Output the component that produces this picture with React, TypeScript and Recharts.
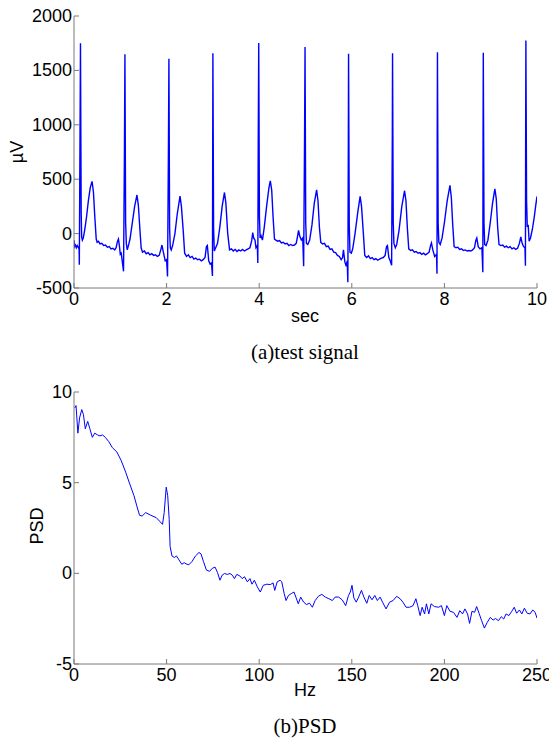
import { LineChart, Line, XAxis, YAxis } from 'recharts'

const SEC_TICKS = [0, 2, 4, 6, 8, 10]
const UV_TICKS = [-500, 0, 500, 1000, 1500, 2000]
const HZ_TICKS = [0, 50, 100, 150, 200, 250]
const PSD_TICKS = [-5, 0, 5, 10]

// [sec, µV]
const ECG_POINTS: [number, number][] = [
  [0.00, -60], [0.01, -120], [0.03, -105], [0.05, -130], [0.07, -110], [0.09, -125], [0.11, -140],
  [0.115, -286], [0.13, 900], [0.14, 1749], [0.155, 200], [0.165, -30], [0.18, -60], [0.20, -40],
  [0.23, 30], [0.27, 150], [0.31, 300], [0.35, 420], [0.39, 480], [0.42, 380], [0.45, 150], [0.48, -50],
  [0.50, -80], [0.53, -70], [0.56, -95], [0.60, -90], [0.64, -110], [0.68, -105], [0.72, -125],
  [0.76, -120], [0.80, -140], [0.84, -135], [0.88, -150], [0.91, -130], [0.94, -70], [0.96, -50],
  [0.98, -110], [1.00, -190], [1.02, -180],
  [1.07, -347], [1.09, 800], [1.10, 1648], [1.115, 100], [1.13, -90], [1.15, -150], [1.17, -120],
  [1.21, -50], [1.26, 100], [1.31, 250], [1.36, 355], [1.39, 260], [1.42, 60], [1.45, -130],
  [1.48, -170], [1.52, -160], [1.56, -185], [1.60, -175], [1.64, -195], [1.68, -185], [1.72, -200],
  [1.76, -195], [1.80, -210], [1.84, -200], [1.88, -140], [1.90, -105], [1.93, -170], [1.97, -250],
  [2.00, -240], [2.02, -395], [2.04, 800], [2.05, 1608], [2.065, 50], [2.08, -130], [2.10, -150],
  [2.13, -110], [2.18, 0], [2.23, 180], [2.29, 345], [2.32, 250], [2.36, 20], [2.39, -180],
  [2.43, -210], [2.47, -195], [2.51, -220], [2.55, -210], [2.59, -235], [2.63, -225], [2.67, -240],
  [2.71, -235], [2.75, -250], [2.79, -240], [2.83, -220], [2.86, -120], [2.88, -110], [2.91, -250],
  [2.94, -280], [2.97, -270], [2.99, -390], [3.00, 1657], [3.015, 50], [3.03, -160], [3.06, -130],
  [3.10, -90], [3.15, 60], [3.20, 250], [3.25, 378], [3.28, 280], [3.32, 0], [3.36, -150],
  [3.40, -140], [3.44, -160], [3.48, -145], [3.52, -165], [3.56, -150], [3.60, -160], [3.64, -145],
  [3.68, -160], [3.72, -150], [3.76, -140], [3.80, -130], [3.84, -60], [3.86, 10], [3.88, -40],
  [3.91, -60], [3.93, -130], [3.96, -110], [3.97, -270], [3.98, 900], [3.99, 1752], [4.005, 150],
  [4.02, -40], [4.04, -20], [4.07, -60], [4.11, 60], [4.16, 250], [4.21, 420], [4.24, 485],
  [4.27, 400], [4.30, 150], [4.33, -50], [4.36, -60], [4.40, -70], [4.44, -65], [4.48, -85],
  [4.52, -80], [4.56, -95], [4.60, -90], [4.64, -110], [4.68, -100], [4.72, -110], [4.76, -105],
  [4.80, -90], [4.83, -20], [4.85, 30], [4.88, -30], [4.91, -60], [4.94, -40], [4.96, -300],
  [4.98, 900], [4.99, 1715], [5.005, 100], [5.02, -90], [5.05, -100], [5.09, -60], [5.14, 80],
  [5.19, 280], [5.24, 402], [5.27, 300], [5.30, 60], [5.33, -80], [5.37, -95], [5.41, -90],
  [5.45, -120], [5.49, -115], [5.53, -145], [5.57, -140], [5.61, -170], [5.65, -175], [5.69, -200],
  [5.73, -210], [5.77, -240], [5.80, -220], [5.82, -150], [5.85, -260], [5.88, -300], [5.90, -250],
  [5.915, -448], [5.925, 800], [5.93, 1654], [5.945, 80], [5.96, -170], [5.99, -180], [6.02, -140],
  [6.07, 0], [6.13, 200], [6.18, 342], [6.21, 250], [6.25, 0], [6.28, -200], [6.32, -220],
  [6.36, -205], [6.40, -230], [6.44, -220], [6.48, -240], [6.52, -230], [6.56, -245], [6.60, -235],
  [6.64, -225], [6.68, -220], [6.72, -200], [6.75, -120], [6.77, -110], [6.80, -220], [6.83, -250],
  [6.86, -292], [6.875, 900], [6.88, 1657], [6.895, 100], [6.91, -90], [6.94, -130], [6.97, -100],
  [7.02, 30], [7.08, 250], [7.14, 394], [7.17, 300], [7.20, 50], [7.23, -140], [7.27, -155],
  [7.31, -150], [7.35, -170], [7.39, -165], [7.43, -180], [7.47, -175], [7.51, -190], [7.55, -180],
  [7.59, -195], [7.63, -185], [7.67, -170], [7.70, -110], [7.72, -85], [7.75, -150], [7.79, -210],
  [7.83, -190], [7.84, -368], [7.845, 900], [7.85, 1666], [7.865, 100], [7.88, -80], [7.91, -100],
  [7.95, -40], [8.00, 100], [8.06, 300], [8.12, 443], [8.15, 330], [8.18, 80], [8.21, -120],
  [8.25, -130], [8.29, -125], [8.33, -145], [8.37, -140], [8.41, -155], [8.45, -150], [8.49, -160],
  [8.53, -155], [8.57, -160], [8.61, -150], [8.65, -130], [8.68, -60], [8.70, -40], [8.73, -120],
  [8.77, -140], [8.81, -130], [8.83, -356], [8.835, 900], [8.84, 1663], [8.855, 100], [8.87, -100],
  [8.90, -110], [8.94, -60], [8.99, 100], [9.04, 280], [9.09, 412], [9.12, 320], [9.15, 60],
  [9.18, -100], [9.22, -110], [9.26, -105], [9.30, -125], [9.34, -115], [9.38, -130], [9.42, -120],
  [9.46, -140], [9.50, -130], [9.54, -145], [9.58, -135], [9.62, -90], [9.65, -30], [9.68, -90],
  [9.71, -120], [9.74, -130], [9.75, -295], [9.755, 900], [9.76, 1774], [9.775, 300], [9.79, 60],
  [9.81, 80], [9.83, -70], [9.86, -40], [9.90, 40], [9.94, 150], [9.97, 250], [10.0, 342],
]

// [Hz, PSD]
const PSD_POINTS: [number, number][] = [
  [0.4, 9.12], [1.1, 9.25], [2.1, 7.73], [3.0, 8.57], [4.2, 9.03], [5.1, 8.75], [6.1, 7.97],
  [7.4, 8.38], [8.5, 8.0], [9.9, 7.5], [11.2, 7.73], [12.7, 7.63], [14.0, 7.58], [15.4, 7.63],
  [16.9, 7.5], [18.8, 7.26], [20.7, 6.93], [23.1, 6.7], [25.4, 6.24], [27.9, 5.58], [30.1, 4.93],
  [32.4, 4.28], [33.9, 3.72], [35.4, 3.2], [36.8, 3.16], [38.7, 3.35], [41.5, 3.2], [44.4, 3.07],
  [46.2, 2.88], [47.8, 2.7], [48.7, 3.35], [49.8, 4.75], [50.6, 4.28], [51.4, 2.98], [51.9, 1.48],
  [52.9, 0.96], [54.2, 0.87], [55.3, 0.96], [56.7, 0.74], [58.2, 0.5], [59.5, 0.59], [60.5, 0.52],
  [62.0, 0.47], [63.7, 0.65], [65.6, 0.96], [67.5, 1.15], [68.6, 1.07], [69.9, 0.65], [71.5, 0.18],
  [73.2, 0.11], [74.7, 0.28], [76.2, 0.34], [77.5, 0.04], [78.8, -0.38], [80.0, -0.1], [81.3, -0.01],
  [82.8, -0.06], [84.2, -0.01], [85.5, -0.1], [86.6, -0.29], [87.9, -0.06], [89.5, -0.14],
  [90.8, -0.29], [92.1, -0.19], [93.6, -0.47], [95.0, -0.29], [96.1, -0.6], [97.4, -0.38],
  [99.0, -0.75], [100.6, -1.03], [102.2, -0.66], [104.1, -0.6], [106.0, -0.62], [107.5, -0.53],
  [108.4, -0.94], [109.7, -0.47], [111.3, -0.38], [112.2, -0.47], [113.5, -1.12], [114.5, -1.5],
  [115.8, -1.22], [117.3, -1.12], [118.8, -1.03], [119.8, -1.31], [121.1, -1.68], [122.4, -1.31],
  [124.0, -1.59], [125.5, -1.72], [127.2, -1.65], [128.7, -1.87], [130.2, -1.5], [131.9, -1.27],
  [133.8, -1.16], [135.7, -1.31], [137.6, -1.4], [139.5, -1.5], [141.0, -1.31], [142.9, -1.31],
  [144.8, -1.46], [146.7, -1.78], [148.2, -1.22], [149.2, -1.03], [150.1, -0.66], [151.1, -1.35],
  [152.4, -1.59], [153.7, -1.31], [155.2, -0.94], [156.7, -1.35], [158.1, -1.65], [159.4, -1.22],
  [160.9, -1.46], [162.4, -1.22], [163.8, -1.5], [165.3, -1.31], [166.6, -1.59], [168.5, -1.96],
  [170.4, -1.59], [172.3, -1.5], [174.2, -1.27], [176.1, -1.4], [177.6, -1.59], [179.3, -1.87],
  [181.2, -1.87], [183.1, -1.78], [184.6, -1.4], [185.6, -1.78], [186.9, -2.33], [188.0, -1.87],
  [189.3, -2.24], [190.3, -1.68], [191.6, -2.24], [192.8, -1.68], [194.6, -1.83], [196.9, -1.87],
  [198.4, -1.78], [200.0, -2.33], [201.3, -1.78], [203.0, -2.09], [204.9, -2.15], [206.8, -2.43],
  [208.3, -2.06], [209.8, -2.24], [211.1, -1.96], [212.5, -2.24], [213.6, -2.76], [214.9, -2.09],
  [216.3, -2.15], [217.4, -1.83], [218.7, -2.2], [220.1, -2.61], [221.6, -3.02], [223.1, -2.71],
  [224.8, -2.43], [226.3, -2.58], [227.6, -2.49], [229.2, -2.61], [230.7, -2.39], [232.0, -2.52],
  [233.3, -2.24], [234.8, -2.33], [236.4, -2.09], [237.7, -1.87], [239.0, -2.2], [240.5, -2.02],
  [241.8, -2.24], [243.2, -1.92], [244.7, -2.2], [246.2, -2.24], [247.7, -2.02], [249.0, -2.15],
  [250.0, -2.47],
]

const ecgData = ECG_POINTS.map(([t, v]) => ({ t, v }))
const psdData = PSD_POINTS.map(([t, v]) => ({ t, v }))

const FRAME = '#7a7a7a'
const SANS = '"Liberation Sans", Arial, sans-serif'
const SERIF = '"Liberation Serif", "Times New Roman", serif'
const TICK_LEN = 5
const TICK_FONT = 18

function BottomTick(props: any) {
  const { x, y, payload } = props
  return (
    <g>
      <line x1={x} x2={x} y1={y} y2={y - TICK_LEN} stroke={FRAME} />
      <text x={x} y={y + 17} textAnchor="middle" fontSize={TICK_FONT} fontFamily={SANS} fill="#000">{payload.value}</text>
    </g>
  )
}

function TopTick(props: any) {
  const { x, y } = props
  return <line x1={x} x2={x} y1={y} y2={y + TICK_LEN} stroke={FRAME} />
}

function LeftTick(props: any) {
  const { x, y, payload } = props
  return (
    <g>
      <line x1={x} x2={x + TICK_LEN} y1={y} y2={y} stroke={FRAME} />
      <text x={x - 2} y={y + 6} textAnchor="end" fontSize={TICK_FONT} fontFamily={SANS} fill="#000">{payload.value}</text>
    </g>
  )
}

function RightTick(props: any) {
  const { x, y } = props
  return <line x1={x} x2={x - TICK_LEN} y1={y} y2={y} stroke={FRAME} />
}

function Panel({ data, xDomain, xTicks, yDomain, yTicks, top, height, marginTop, strokeWidth }: any) {
  return (
    <div style={{ position: 'absolute', left: 0, top }}>
      <LineChart width={549} height={height} data={data}
        margin={{ top: marginTop, right: 12, bottom: height - marginTop - 272 - 36, left: 14 }}>
        <XAxis xAxisId="b" dataKey="t" type="number" domain={xDomain} ticks={xTicks} interval={0}
          height={36} tickSize={0} tickMargin={0} tickLine={false} tick={<BottomTick />}
          axisLine={{ stroke: FRAME }} allowDataOverflow />
        <XAxis xAxisId="top" orientation="top" dataKey="t" type="number" domain={xDomain} ticks={xTicks}
          interval={0} height={0} tickSize={0} tickMargin={0} tickLine={false} tick={<TopTick />}
          axisLine={{ stroke: FRAME }} allowDataOverflow />
        <YAxis yAxisId="l" type="number" domain={yDomain} ticks={yTicks} interval={0} width={60}
          tickSize={0} tickMargin={0} tickLine={false} tick={<LeftTick />}
          axisLine={{ stroke: FRAME }} allowDataOverflow />
        <YAxis yAxisId="r" orientation="right" type="number" domain={yDomain} ticks={yTicks} interval={0}
          width={0} tickSize={0} tickMargin={0} tickLine={false} tick={<RightTick />}
          axisLine={{ stroke: FRAME }} allowDataOverflow />
        <Line xAxisId="b" yAxisId="l" type="linear" dataKey="v" stroke="#0000ff"
          strokeWidth={strokeWidth} dot={false} activeDot={false} isAnimationActive={false} />
      </LineChart>
    </div>
  )
}

function Text({ x, y, children, rotate, serif }: any) {
  return (
    <div style={{
      position: 'absolute', left: x, top: y, whiteSpace: 'nowrap',
      transform: `translate(-50%, -50%)${rotate ? ' rotate(-90deg)' : ''}`,
      fontFamily: serif ? SERIF : SANS, fontSize: serif ? 21 : 18, lineHeight: '22px', color: '#000',
    }}>{children}</div>
  )
}

export default function App() {
  return (
    <div style={{ position: 'fixed', left: 0, top: 0, width: 549, height: 738, background: '#fff', overflow: 'hidden' }}>
      <Panel data={ecgData} xDomain={[0, 10]} xTicks={SEC_TICKS} yDomain={[-500, 2000]} yTicks={UV_TICKS}
        top={0} height={370} marginTop={16} strokeWidth={1.4} />
      <Text x={17} y={152} rotate>µV</Text>
      <Text x={305} y={316}>sec</Text>
      <Text x={305} y={352} serif>(a)test signal</Text>

      <Panel data={psdData} xDomain={[0, 250]} xTicks={HZ_TICKS} yDomain={[-5, 10]} yTicks={PSD_TICKS}
        top={370} height={368} marginTop={22} strokeWidth={1} />
      <Text x={37} y={526} rotate>PSD</Text>
      <Text x={305} y={690}>Hz</Text>
      <Text x={305} y={726} serif>(b)PSD</Text>
    </div>
  )
}
